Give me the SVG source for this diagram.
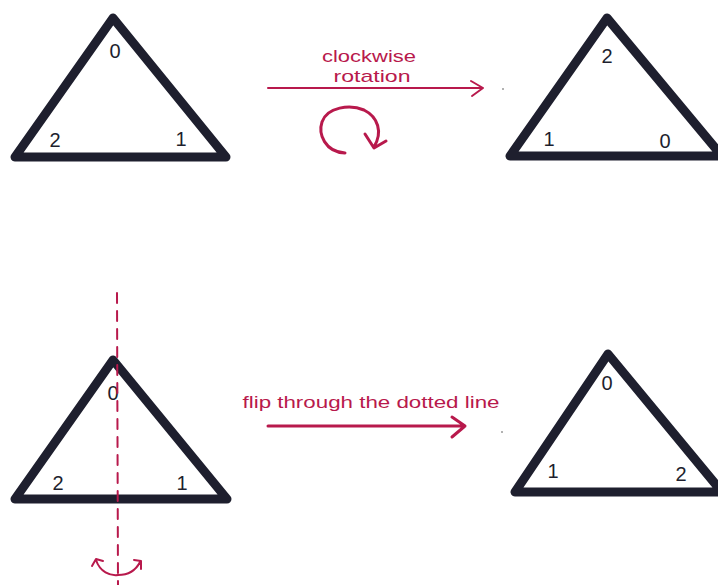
<svg xmlns="http://www.w3.org/2000/svg" width="718" height="585" viewBox="0 0 718 585">
<defs>
<style>
.tri{fill:none;stroke:#1e1f2e;stroke-width:9;stroke-linejoin:round;stroke-linecap:round}
.num{font-family:"Liberation Sans",sans-serif;font-size:20px;fill:#1e1f2e;text-anchor:middle}
.lbl{font-family:"Liberation Sans",sans-serif;font-size:17px;fill:#b8194c;text-anchor:middle}
.red{fill:none;stroke:#b8194c;stroke-width:2;stroke-linecap:round;stroke-linejoin:round}
.redb{fill:none;stroke:#b8194c;stroke-width:3;stroke-linecap:round;stroke-linejoin:round}
</style>
</defs>
<rect width="718" height="585" fill="#ffffff"/>
<g id="tri-original">
<polygon class="tri" points="113,18 15,157 226,157"/>
<text class="num" x="115" y="58">0</text>
<text class="num" x="55" y="147">2</text>
<text class="num" x="181" y="146">1</text>
</g>
<g id="tri-rotated">
<polygon class="tri" points="607,18 510,156 722,156"/>
<text class="num" x="607" y="63">2</text>
<text class="num" x="549" y="146">1</text>
<text class="num" x="665" y="148">0</text>
</g>
<g id="tri-flip-source">
<polygon class="tri" points="113,360 15,499 227,499"/>
<text class="num" x="113" y="400">0</text>
<text class="num" x="58" y="490">2</text>
<text class="num" x="182" y="490">1</text>
</g>
<g id="tri-flipped">
<polygon class="tri" points="608,354 515,492 722,492"/>
<text class="num" x="607" y="390">0</text>
<text class="num" x="553" y="478">1</text>
<text class="num" x="681" y="481">2</text>
</g>
<g id="connectors">
<path class="red" d="M268,88 L483,88 M471,81 L483,88 L472,96"/>
<text class="lbl" x="369" y="62" textLength="94" lengthAdjust="spacingAndGlyphs">clockwise</text>
<text class="lbl" x="372" y="82" textLength="77" lengthAdjust="spacingAndGlyphs">rotation</text>
<path class="redb" d="M345,153 C325,152 318,134 322,122 C327,107 350,104 364,110 C378,117 383,132 374,147 M365,134 L374,148 L386,141"/>
<path class="red" stroke-dasharray="10,8" d="M117,293 L118,585"/>
<path class="redb" d="M268,426 L465,426 M452,417 L465,426 L452,437"/>
<text class="lbl" x="371" y="408" textLength="257" lengthAdjust="spacingAndGlyphs">flip through the dotted line</text>
<path class="red" d="M96,560 C100,572 110,576 118,575 C128,575 136,570 140,562 M92,566 L96,559 L103,561 M134,560 L141,561 L141,569"/>
<circle cx="503" cy="89" r="1" fill="#999"/>
<circle cx="502" cy="432" r="1" fill="#999"/>
</g>
</svg>
